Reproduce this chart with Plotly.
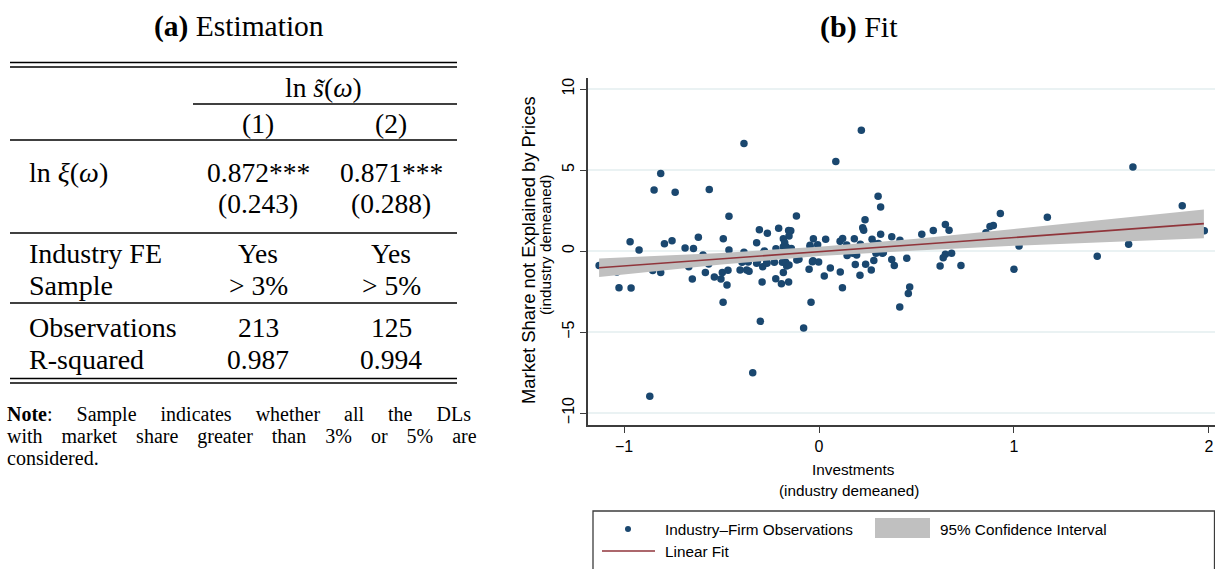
import plotly.graph_objects as go

W, H = 1215, 569

# ---------------- data ----------------
obs_x = [-0.969, -0.923, -0.846, -0.812, -0.793, -0.754, -0.738, -0.687, -0.644, -0.619,
         -0.563, -0.491, -0.462, -0.462, -0.385, -0.320, -0.306, -0.265, -0.207, -0.183,
         -0.156, -0.145, -0.154, -0.116, -0.029, -0.046, -0.007, 0.034, 0.086, 0.108,
         0.121, 0.181, 0.217, 0.224, 0.229, 0.236, 0.272, 0.303, 0.316, 0.316,
         0.373, 0.527, 0.586, 0.648, 0.667, 0.856, 0.877, 0.894, 0.930, 1.171,
         1.610, 1.863, 1.976, 1.588, 1.427, 1.026, 0.648, 0.637, 0.680, 0.450,
         0.373, 0.325, 0.386, 0.465, 0.458, 0.414, 0.621, 0.728, 1.000, -1.128,
         -1.026, -0.964, -0.853, -0.812, -0.868, -0.668, -0.650, -0.583, -0.566, -0.537,
         -0.503, -0.496, -0.467, -0.472, -0.492, -0.405, -0.395, -0.371, -0.359, -0.385,
         -0.301, -0.340, -0.292, -0.289, -0.267, -0.284, -0.222, -0.193, -0.183, -0.156,
         -0.188, -0.166, -0.221, -0.183, -0.142, -0.103, -0.041, -0.079, -0.051, -0.031,
         -0.002, 0.027, 0.058, 0.109, 0.120, 0.144, 0.186, 0.210, 0.239, 0.268,
         0.281, -1.037, -0.176, -0.168, -0.034, -0.268, -0.320, -0.229, -0.171, -0.154,
         -0.114, 0.415, 0.212, 0.304, 0.321, 0.173, 0.193, 0.292, 0.330, -0.363,
         -0.316, -0.595, -0.280, -0.046, 0.142, 0.280, 0.550, 0.750]
obs_y = [0.57, 0.06, 3.77, 4.79, 0.45, 0.64, 3.62, 0.18, 0.16, 0.85,
         3.79, 0.76, 2.14, 0.06, 6.63, 0.51, 1.32, 1.09, 1.40, 0.76,
         1.27, 1.25, 0.93, 2.16, 0.76, 0.35, 0.39, 0.72, 5.53, 0.60,
         0.78, 0.76, 7.45, 1.44, 1.28, 1.93, 0.72, 3.38, 2.72, 1.03,
         0.88, 1.03, 1.27, 1.64, 1.28, 1.13, 1.52, 1.58, 2.32, 2.08,
         5.19, 2.80, 1.25, 0.41, -0.32, 0.31, -0.20, -0.41, -0.14, -0.45,
         -0.53, -0.14, -0.90, -2.22, -2.63, -3.46, -0.93, -0.90, -1.13, -0.90,
         -2.26, -2.28, -1.21, -1.32, -8.97, -0.97, -1.73, -1.32, -0.80, -1.60,
         -1.73, -1.32, -1.19, -2.10, -3.17, -1.17, -0.70, -1.17, -1.25, -0.08,
         -4.34, -7.51, -1.91, -0.97, -0.76, -0.08, -1.71, -2.02, -1.32, -1.91,
         -0.70, -0.93, 0.14, 0.27, 0.16, -0.51, -3.17, -4.75, -1.13, -0.60,
         -0.68, -1.54, -1.05, -1.30, -2.26, -0.27, -0.84, -1.50, -0.82, -1.17,
         -0.58, -1.30, 0.51, 0.25, -0.66, -0.70, -0.76, -0.70, -0.70, -0.86,
         -0.56, 0.66, 0.41, 0.47, 0.33, -0.14, -0.25, -0.14, -0.10, -0.68,
         -0.62, -0.25, 0.00, 0.27, 0.37, 0.47, 0.45, 0.60]

fit_x = [-1.128, 1.974]
fit_y = [-1.03, 1.69]

ci_x = [-1.128, -0.5, 0.0, 0.5, 1.0, 1.5, 1.974]
ci_lo = [-1.60, -0.84, -0.31, 0.03, 0.32, 0.56, 0.79]
ci_hi = [-0.46, -0.12, 0.27, 0.76, 1.36, 1.99, 2.56]

x_ticks = [-1, 0, 1, 2]
y_ticks = [-10, -5, 0, 5, 10]

# table content
col_head = "ln <i>s̃</i>(<i>ω</i>)"
col_nums = ["(1)", "(2)"]
row_labels = ["ln <i>ξ</i>(<i>ω</i>)", "", "Industry FE", "Sample", "Observations", "R-squared"]
col1_vals = ["0.872***", "(0.243)", "Yes", "> 3%", "213", "0.987"]
col2_vals = ["0.871***", "(0.288)", "Yes", "> 5%", "125", "0.994"]
note_lines = [["<b>Note</b>:", "Sample", "indicates", "whether", "all", "the", "DLs"],
              ["with", "market", "share", "greater", "than", "3%", "or", "5%", "are"],
              ["considered."]]
note_gaps = ["\u00a0" * 4 + "\u2009", "\u00a0" * 3 + "\u2009", " "]

# ---------------- styling ----------------
NAVY = "#1a476f"
MAROON = "#90353b"
CI_GRAY = "#c0c0c0"
GRID = "#eaf2f3"
AX = "#3c3c3c"
SANS = "Liberation Sans, Arial, sans-serif"
SERIF = "Liberation Serif, Times New Roman, serif"
FS = 15.3


def px(x):
    return x / W


def py(y):
    return 1 - y / H


fig = go.Figure()
fig.add_trace(go.Scatter(x=obs_x, y=obs_y, mode="markers",
                         marker=dict(color=NAVY, size=7.5, line=dict(width=0)),
                         showlegend=False, hoverinfo="skip"))
fig.add_trace(go.Scatter(x=ci_x + ci_x[::-1], y=ci_hi + ci_lo[::-1], fill="toself",
                         fillcolor=CI_GRAY, line=dict(width=0), mode="lines",
                         showlegend=False, hoverinfo="skip"))
fig.add_trace(go.Scatter(x=fit_x, y=fit_y, mode="lines",
                         line=dict(color=MAROON, width=1.6),
                         showlegend=False, hoverinfo="skip"))

# plot area in pixels
PL, PR, PT, PB = 588, 1215, 78, 425
x0v, x1v = -1.185, 2.031
y0v, y1v = -10.74, 10.68

fig.update_layout(
    width=W, height=H,
    margin=dict(l=0, r=0, t=0, b=0),
    paper_bgcolor="white", plot_bgcolor="white",
    showlegend=False,
    xaxis=dict(domain=[px(PL), px(PR)], range=[x0v, x1v], tickvals=x_ticks,
               ticks="outside", ticklen=6, tickwidth=1.3, tickcolor=AX,
               showline=True, linecolor=AX, linewidth=1.5, showgrid=False,
               zeroline=False, tickfont=dict(family=SANS, size=16, color="black")),
    yaxis=dict(domain=[py(PB), py(PT)], range=[y0v, y1v], tickvals=y_ticks,
               ticks="outside", ticklen=6, tickwidth=1.3, tickcolor=AX,
               showline=True, linecolor=AX, linewidth=1.5, showgrid=True,
               gridcolor=GRID, gridwidth=1.5, zeroline=False, tickangle=-90,
               tickfont=dict(family=SANS, size=16, color="black")),
)

ann = []
shapes = []


def text(x, y, s, size, family=SERIF, anchor="center", angle=0):
    ann.append(dict(x=px(x), y=py(y), xref="paper", yref="paper", text=s,
                    showarrow=False, xanchor=anchor, yanchor="middle",
                    textangle=angle, font=dict(family=family, size=size, color="black")))


def hline(x0, x1, y, w=1.3, color="black"):
    shapes.append(dict(type="line", xref="paper", yref="paper",
                       x0=px(x0), x1=px(x1), y0=py(y), y1=py(y),
                       line=dict(color=color, width=w)))


# titles
text(239, 27, "<b>(a)</b> Estimation", 29.5)
text(859, 27, "<b>(b)</b> Fit", 30)

# table
TS = 27.5
hline(10, 457, 62.5)
hline(10, 457, 67)
text(323, 87, col_head, TS)
hline(193, 457, 104)
text(258, 124, col_nums[0], TS)
text(391, 124, col_nums[1], TS)
hline(10, 457, 140)
row_y = [172, 203, 253, 285, 327, 359]
for lab, v1, v2, yy in zip(row_labels, col1_vals, col2_vals, row_y):
    if lab:
        text(27, yy, lab, 28, anchor="left")
    text(258, yy, v1, TS)
    text(391, yy, v2, TS)
hline(10, 457, 233)
hline(10, 457, 303)
hline(10, 457, 378.5)
hline(10, 457, 383)
for i, (words, g) in enumerate(zip(note_lines, note_gaps)):
    text(5, 414 + 22 * i, g.join(words), 20, anchor="left")

# axis titles
text(529, 250, "Market Share not Explained by Prices", 18.4, family=SANS, angle=-90)
text(545, 245, "(industry demeaned)", FS, family=SANS, angle=-90)
text(853, 469, "Investments", FS, family=SANS)
text(849, 490, "(industry demeaned)", FS, family=SANS)

# legend box
shapes.append(dict(type="rect", xref="paper", yref="paper",
                   x0=px(593), x1=px(1214.5), y0=py(511), y1=py(575),
                   line=dict(color=AX, width=1.3), fillcolor="rgba(0,0,0,0)"))
shapes.append(dict(type="circle", xref="paper", yref="paper",
                   x0=px(625), x1=px(631), y0=py(526), y1=py(532),
                   line=dict(width=0), fillcolor=NAVY))
text(663, 529, "Industry\u2013Firm Observations", FS, family=SANS, anchor="left")
shapes.append(dict(type="rect", xref="paper", yref="paper",
                   x0=px(875), x1=px(930), y0=py(518), y1=py(538),
                   line=dict(width=0), fillcolor=CI_GRAY))
text(938, 529, "95% Confidence Interval", FS, family=SANS, anchor="left")
hline(602, 655, 551, w=1.5, color=MAROON)
text(663, 551, "Linear Fit", FS, family=SANS, anchor="left")

fig.update_layout(annotations=ann, shapes=shapes)
fig.write_html("out.html")
